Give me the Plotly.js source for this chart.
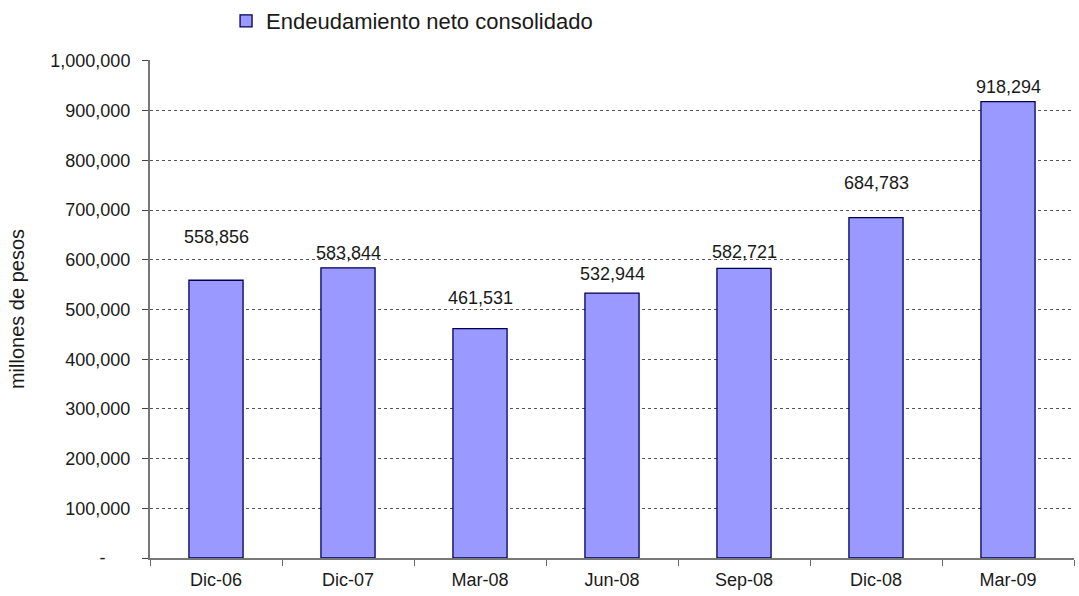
<!DOCTYPE html>
<html>
<head>
<meta charset="utf-8">
<script src="https://cdn.plot.ly/plotly-3.0.1.min.js"></script>
<style>html,body{margin:0;padding:0;background:#fff;}#chart{width:1079px;height:596px;}</style>
</head>
<body>
<div id="chart"></div>
<script>
const categories = ["Dic-06", "Dic-07", "Mar-08", "Jun-08", "Sep-08", "Dic-08", "Mar-09"];
const values = [558856, 583844, 461531, 532944, 582721, 684783, 918294];
const seriesName = "Endeudamiento neto consolidado";
const yTickVals = [0, 100000, 200000, 300000, 400000, 500000, 600000, 700000, 800000, 900000, 1000000];
const yTickText = ["-\u00a0\u00a0\u00a0\u00a0\u00a0", "100,000", "200,000", "300,000", "400,000", "500,000", "600,000", "700,000", "800,000", "900,000", "1,000,000"];
const labelShift = [43, 15, 31, 19, 16, 35, 15];

const fontFam = "Liberation Sans, Arial, sans-serif";
const txtColor = '#1a1a1a';
const annotations = categories.map((c, i) => ({
  x: c, y: values[i], xref: 'x', yref: 'y',
  text: values[i].toLocaleString('en-US'),
  showarrow: false, yanchor: 'middle', yshift: labelShift[i],
  font: {family: fontFam, size: 18, color: txtColor}
}));

const trace = {
  type: 'bar', x: categories, y: values, name: seriesName,
  marker: {color: '#9999FF', line: {color: '#000055', width: 1.3}},
  width: 0.41, showlegend: true
};

const layout = {
  width: 1079, height: 596,
  margin: {l: 150, r: 5, t: 60, b: 38},
  paper_bgcolor: '#fff', plot_bgcolor: '#fff',
  font: {family: fontFam, size: 18, color: txtColor},
  showlegend: true,
  legend: {xref: 'container', yref: 'container', x: 0.2095, y: 1.0, xanchor: 'left', yanchor: 'top',
           orientation: 'h', font: {family: fontFam, size: 22, color: txtColor}, itemwidth: 30, tracegroupgap: 0},
  xaxis: {type: 'category', tickson: 'boundaries', ticks: 'outside', ticklen: 6, tickcolor: '#666',
          showline: true, linecolor: '#777', linewidth: 2, showgrid: false, ticklabelstandoff: 4,
          tickfont: {family: fontFam, size: 18, color: txtColor}},
  yaxis: {range: [0, 1002000], tickvals: yTickVals, ticktext: yTickText, ticks: 'outside', ticklen: 6,
          tickcolor: '#444', showline: true, linecolor: '#777', linewidth: 2, ticklabelstandoff: 8,
          showgrid: true, gridcolor: '#555', griddash: 'dot', gridwidth: 1, zeroline: false,
          tickfont: {family: fontFam, size: 18, color: txtColor},
          title: {text: 'millones de pesos', font: {family: fontFam, size: 20, color: txtColor}, standoff: 20}},
  annotations: annotations
};

Plotly.newPlot('chart', [trace], layout, {displayModeBar: false, staticPlot: true});
</script>
</body>
</html>
